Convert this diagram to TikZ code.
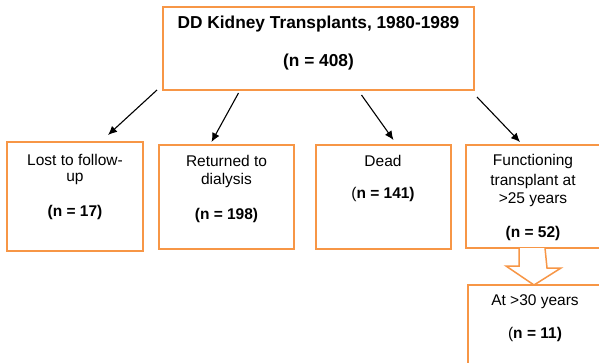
\documentclass[tikz,border=0pt]{standalone}
\usepackage{fontspec}
\setmainfont{Liberation Sans}
\usetikzlibrary{arrows.meta}
\definecolor{boxorange}{HTML}{F79646}
\tikzset{
  box/.style={draw=boxorange, line width=1.5pt, fill=white, inner sep=0pt, outer sep=0pt, rectangle},
  txt/.style={inner sep=0pt, font=\fontsize{15.5}{18}\selectfont, anchor=center},
  txtb/.style={inner sep=0pt, font=\fontsize{15.5}{18}\selectfont\bfseries, anchor=center},
  ttl/.style={inner sep=0pt, font=\fontsize{17.3}{20}\selectfont\bfseries, anchor=center},
  arr/.style={draw=black, line width=1.1pt, -{Latex[length=9pt,width=8pt]}},
  blockarrow/.style={draw=boxorange, line width=1.5pt, fill=white, line join=miter}
}
\begin{document}
\begin{tikzpicture}[x=1pt,y=-1pt]
\useasboundingbox (0,0) rectangle (599,362);
\clip (0,0) rectangle (599,362);
\fill[white] (0,0) rectangle (599,362);
% boxes
\node[box, minimum width=311pt, minimum height=83pt] (top) at (318.5,48.5) {};
\node[box, minimum width=136pt, minimum height=109pt] (lost) at (75,196.5) {};
\node[box, minimum width=135pt, minimum height=104pt] (ret) at (226.5,197) {};
\node[box, minimum width=135pt, minimum height=104pt] (dead) at (383.5,197) {};
\node[box, minimum width=134pt, minimum height=103pt] (func) at (533,196.5) {};
\node[box, minimum width=134pt, minimum height=81pt] (thirty) at (535,325.5) {};
% texts
\node[ttl] (t1) at (318.5,24) {DD Kidney Transplants, 1980-1989};
\node[ttl] (t2) at (318.5,62) {(n = 408)};
\node[txt] (l1) at (75,160) {Lost to follow-};
\node[txt] (l2) at (75,179) {up};
\node[txtb] (l3) at (75,212) {(n = 17)};
\node[txt] (r1) at (226.5,161) {Returned to};
\node[txt] (r2) at (226.5,180) {dialysis};
\node[txtb] (r3) at (226.5,215) {(n = 198)};
\node[txt] (d1) at (383,161) {Dead};
\node[txt] (d2) at (383,194) {(\textbf{n = 141)}};
\node[txt] (f1) at (533,161) {Functioning};
\node[txt] (f2) at (533,181) {transplant at};
\node[txt] (f3) at (533,200) {>25 years};
\node[txtb] (f4) at (533,233) {(n = 52)};
\node[txt] (s1) at (535,302) {At >30 years};
\node[txt] (s2) at (535,334) {(\textbf{n = 11)}};
% connectors
\coordinate (a1s) at ([shift={(-6,0)}]top.south west);
\coordinate (a2s) at ([shift={(-80,3)}]top.south);
\coordinate (a3s) at ([shift={(43,5)}]top.south);
\coordinate (a4s) at ([shift={(3,7)}]top.south east);
\coordinate (a1e) at ([shift={(33,-7)}]lost.north);
\coordinate (a2e) at ([shift={(-15,-3)}]ret.north);
\coordinate (a3e) at ([shift={(10,-5)}]dead.north);
\coordinate (a4e) at ([shift={(-13,-3)}]func.north);
\draw[arr] (a1s) -- (a1e);
\draw[arr] (a2s) -- (a2e);
\draw[arr] (a3s) -- (a3e);
\draw[arr] (a4s) -- (a4e);
% block arrow
\draw[blockarrow] ([xshift=-14pt]func.south) -- ++(0,18) -- ++(-13,0) -- ([xshift=-1pt]thirty.north) -- ++(27,-17) -- ++(-14,0) -- ([xshift=12pt]func.south);
\end{tikzpicture}
\end{document}
